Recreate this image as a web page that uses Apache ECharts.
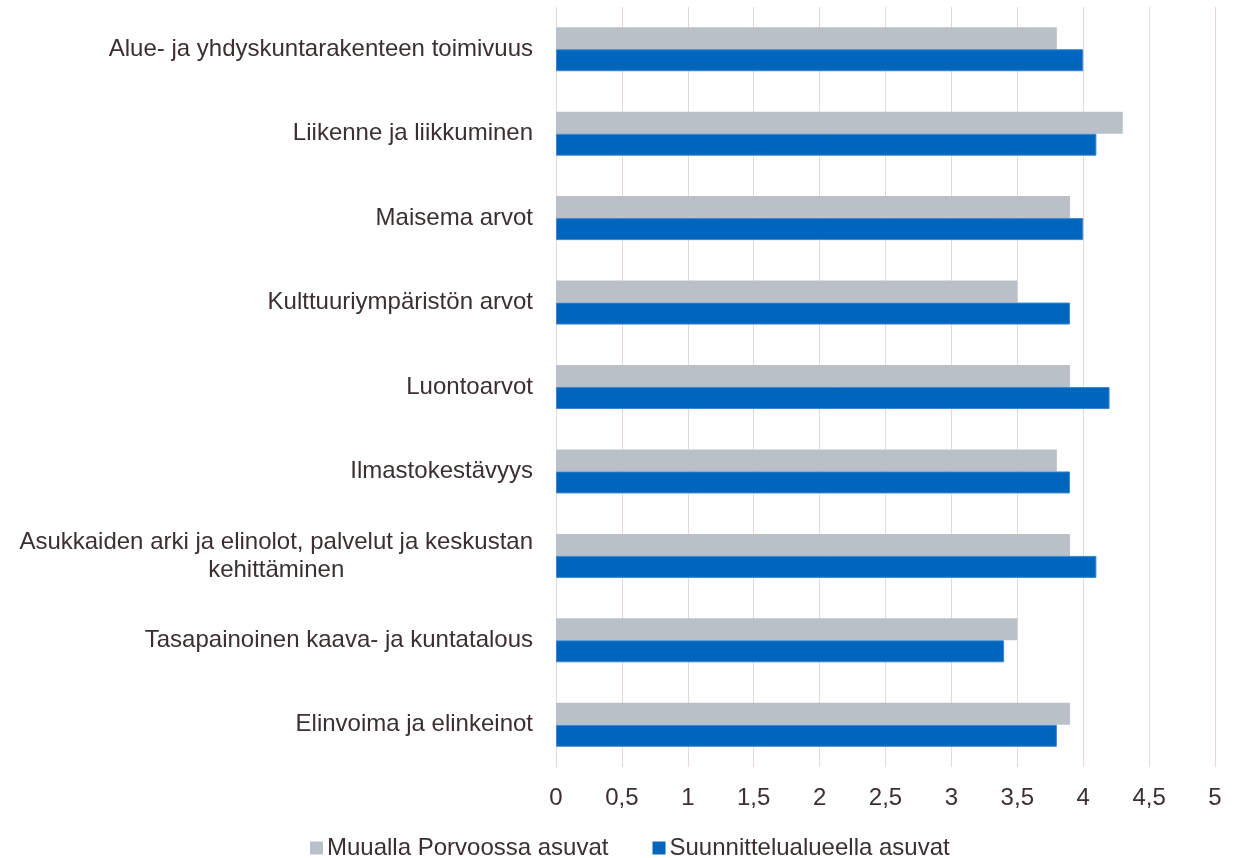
<!DOCTYPE html>
<html><head><meta charset="utf-8">
<script src="https://cdn.jsdelivr.net/npm/echarts@6/dist/echarts.min.js"></script>
<style>html,body{margin:0;padding:0;background:#fff}#c{width:1236px;height:858px}</style>
</head><body><div id="c"></div>
<script>
const categories = [
  "Alue- ja yhdyskuntarakenteen toimivuus",
  "Liikenne ja liikkuminen",
  "Maisema arvot",
  "Kulttuuriympäristön arvot",
  "Luontoarvot",
  "Ilmastokestävyys",
  "Asukkaiden arki ja elinolot, palvelut ja keskustan\nkehittäminen",
  "Tasapainoinen kaava- ja kuntatalous",
  "Elinvoima ja elinkeinot"
];
const seriesNames = ["Muualla Porvoossa asuvat", "Suunnittelualueella asuvat"];
const muualla = [3.8, 4.3, 3.9, 3.5, 3.9, 3.8, 3.9, 3.5, 3.9];
const suunnittelu = [4.0, 4.1, 4.0, 3.9, 4.2, 3.9, 4.1, 3.4, 3.8];
const xTicks = ["0","0,5","1","1,5","2","2,5","3","3,5","4","4,5","5"];

const txt = '#3b2f2f';
const ff = 'Liberation Sans, Arial, sans-serif';
const chart = echarts.init(document.getElementById('c'), null, {renderer:'canvas'});
chart.setOption({
  animation:false,
  backgroundColor:'#ffffff',
  textStyle:{fontFamily:ff},
  legend:{
    top:831, left:305,
    itemWidth:13, itemHeight:13, itemGap:44,
    icon:'rect',
    itemStyle:{borderWidth:0},
    textStyle:{fontSize:24, color:txt, fontFamily:ff, padding:[0,0,0,-1]},
    data:seriesNames
  },
  grid:{left:556, right:21, top:7, bottom:91, containLabel:false},
  xAxis:{
    type:'value', min:0, max:5, interval:0.5,
    axisLine:{show:false}, axisTick:{show:false},
    splitLine:{show:true, lineStyle:{color:'#e6d8da', width:1}},
    axisLabel:{fontSize:24, color:txt, margin:19, fontFamily:ff,
      formatter:function(v){ const i=Math.round(v*2); return xTicks[i]; }}
  },
  yAxis:{
    type:'category', data:categories, inverse:true,
    axisLine:{show:true, lineStyle:{color:'#e6d8da'}}, axisTick:{show:false},
    axisLabel:{fontSize:24, color:txt, margin:23, fontFamily:ff, lineHeight:28,
      formatter:function(v){ return v.split('\n').map(s=>'{c|'+s+'}').join('\n'); },
      rich:{c:{align:'center', fontSize:24, color:txt, fontFamily:ff, lineHeight:28}}
    }
  },
  series:[
    {name:seriesNames[0], type:'bar', data:muualla, itemStyle:{color:'#b9c0c7'}, barWidth:22, barGap:'0%'},
    {name:seriesNames[1], type:'bar', data:suunnittelu, itemStyle:{color:'#0065bd', borderColor:'#3d85cc', borderWidth:1}, barWidth:22, barGap:'0%'}
  ]
});
</script></body></html>
